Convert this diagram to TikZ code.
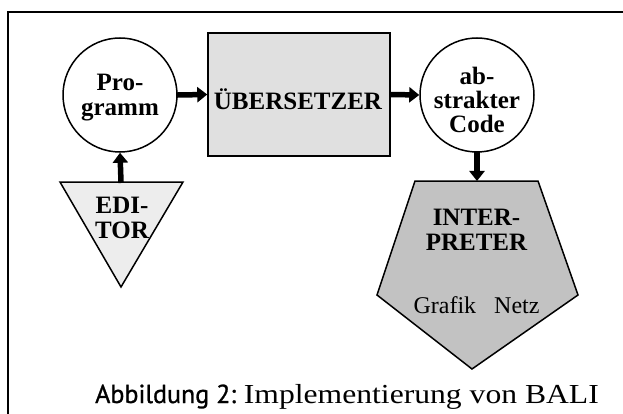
\documentclass[tikz,border=0pt]{standalone}
\usepackage{fontspec}
\setmainfont{Liberation Serif}
\newfontfamily\capsans[FakeBold=1]{PT Sans}
\newfontfamily\capserif[FakeStretch=1.15]{Liberation Serif}
\usetikzlibrary{arrows.meta}
\definecolor{boxgray}{gray}{0.88}
\definecolor{pentgray}{gray}{0.76}
\definecolor{trigray}{gray}{0.93}
\tikzset{
  lbl/.style={font=\bfseries\fontsize{25}{25}\selectfont, align=center, inner sep=0pt},
  plain/.style={font=\fontsize{24}{24}\selectfont, inner sep=0pt},
  shapeline/.style={draw=black, line width=1.5pt},
  blob/.style={shapeline, circle, fill=white, minimum size=114pt, inner sep=0pt},
  bigarrow/.style={line width=5.5pt, -{Triangle[length=10pt 0 0, width=15pt 0 0]}, shorten <=-1pt},
}
\begin{document}
\begin{tikzpicture}[x=1pt, y=-1pt]
  \useasboundingbox (0,0) rectangle (623,414);
  \clip (0,0) rectangle (623,414);
  % outer frame (runs past the right and bottom edges)
  \draw[line width=2pt] (8,12) rectangle (660,440);

  % program source
  \node[blob] (prog) at (120,95) {};
  \node[lbl] (progtxt) at (120,98) {Pro-\\gramm};

  % compiler box
  \node[shapeline, fill=boxgray, minimum width=182pt, minimum height=123pt, inner sep=0pt] (comp) at (299,94.5) {};
  \node[lbl] (comptxt) at (298,99) {ÜBERSETZER};

  % abstract code
  \node[blob] (code) at (477,95) {};
  \node[lbl, font=\bfseries\fontsize{25}{24}\selectfont] (codetxt) at (477,100) {ab-\\strakter\\Code};

  % editor triangle
  \coordinate (edtop) at (121,182);
  \draw[shapeline, fill=trigray, line join=miter] (60,182) -- (183,182) -- (121,287) -- cycle;
  \node[lbl] (edtxt) at (122,218) {EDI-\\TOR};

  % interpreter pentagon
  \coordinate (inttop) at (477,181);
  \draw[shapeline, fill=pentgray, line join=miter] (415,181) -- (538,181) -- (578,295) -- (472,369) -- (377,295) -- cycle;
  \node[lbl] (inttxt) at (476.5,230) {INTER-\\PRETER};
  \node[plain] (intsub) at (476.5,305) {Grafik\hspace{18pt}Netz};

  % data flow
  \draw[bigarrow] (prog.east) -- (comp.west);
  \draw[bigarrow] (comp.east) -- (code.west);
  \draw[bigarrow] (code.south) -- (inttop);
  \draw[bigarrow] (edtop) -- (prog.south);

  % caption
  \node[inner sep=0pt, anchor=base west] (cap) at (95,403)
    {{\capsans\fontsize{26}{26}\selectfont Abbildung 2:}{\capserif\fontsize{27.5}{28}\selectfont\ Implementierung von BALI}};
\end{tikzpicture}
\end{document}
